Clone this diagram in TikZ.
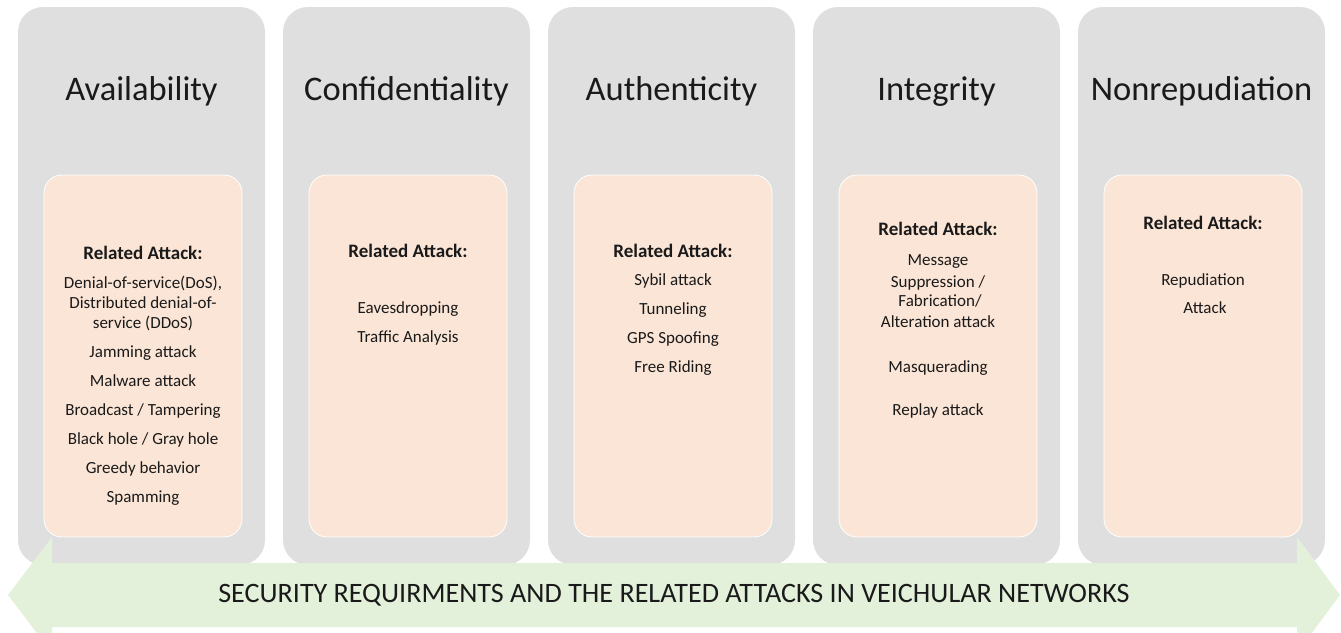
\documentclass[tikz,border=0pt]{standalone}
\usepackage{fontspec}
\setmainfont{Carlito}
\definecolor{colgray}{HTML}{DFDFDF}
\definecolor{attackfill}{HTML}{FBE5D6}
\definecolor{bandgreen}{HTML}{E3F1DA}
\definecolor{ink}{HTML}{1A1A1A}
\begin{document}
\begin{tikzpicture}[x=1pt,y=-1pt,
  pillar/.style={fill=colgray, rounded corners=25pt},
  attackbox/.style={fill=attackfill, draw=white, line width=0.8pt, rounded corners=18pt},
  heading/.style={font=\fontsize{34.5}{38}\selectfont, text=ink, anchor=base, inner sep=0pt},
  attackline/.style={font=\fontsize{17}{20}\selectfont, text=ink, anchor=base, inner sep=0pt},
  attackhead/.style={font=\fontsize{19}{20}\selectfont\bfseries, text=ink, anchor=base, inner sep=0pt},
  band/.style={fill=bandgreen},
  bandtext/.style={font=\fontsize{28.1}{30}\selectfont, text=ink, anchor=base, inner sep=0pt}
]
\useasboundingbox (0,0) rectangle (1341,632);
\clip (0,0) rectangle (1341,632);

% grey pillars and the peach attack panels inside them
\foreach \l in {18,283,548,813,1078} {
  \path[pillar] (\l,7) rectangle ++(247,558);
  \path[attackbox] (\l+26,175) rectangle ++(198,362);
}

% double-headed band along the bottom
\path[band] (8,595) -- (52,537) -- (52,563) -- (1297,563) -- (1297,537)
  -- (1340,595) -- (1297,653) -- (1297,627) -- (52,627) -- (52,653) -- cycle;
\node[bandtext] (bandlabel) at (674,602)
  {SECURITY REQUIRMENTS AND THE RELATED ATTACKS IN VEICHULAR NETWORKS};

% column headings
\node[heading] (hA) at (141.5,100) {Availability};
\node[heading] (hC) at (406.5,100) {Confidentiality};
\node[heading] (hU) at (671.5,100) {Authenticity};
\node[heading] (hI) at (936.5,100) {Integrity};
\node[heading] (hN) at (1201.5,100) {Nonrepudiation};

% Availability
\node[attackhead] (a0) at (143,259) {Related Attack:};
\node[attackline] (a1) at (143,288) {Denial-of-service(DoS),};
\node[attackline] (a2) at (143,308) {Distributed denial-of-};
\node[attackline] (a3) at (143,328) {service (DDoS)};
\node[attackline] (a4) at (143,357) {Jamming attack};
\node[attackline] (a5) at (143,386) {Malware attack};
\node[attackline] (a6) at (143,415) {Broadcast / Tampering};
\node[attackline] (a7) at (143,444) {Black hole / Gray hole};
\node[attackline] (a8) at (143,473) {Greedy behavior};
\node[attackline] (a9) at (143,502) {Spamming};

% Confidentiality
\node[attackhead] (c0) at (408,257) {Related Attack:};
\node[attackline] (c1) at (408,313) {Eavesdropping};
\node[attackline] (c2) at (408,342) {Traffic Analysis};

% Authenticity
\node[attackhead] (u0) at (673,257) {Related Attack:};
\node[attackline] (u1) at (673,285) {Sybil attack};
\node[attackline] (u2) at (673,314) {Tunneling};
\node[attackline] (u3) at (673,343) {GPS Spoofing};
\node[attackline] (u4) at (673,372) {Free Riding};

% Integrity
\node[attackhead] (i0) at (938,235) {Related Attack:};
\node[attackline] (i1) at (938,265) {Message};
\node[attackline] (i2) at (938,287) {Suppression /};
\node[attackline] (i3) at (940,306) {Fabrication/};
\node[attackline] (i4) at (938,327) {Alteration attack};
\node[attackline] (i5) at (938,372) {Masquerading};
\node[attackline] (i6) at (938,415) {Replay attack};

% Nonrepudiation
\node[attackhead] (n0) at (1203,229) {Related Attack:};
\node[attackline] (n1) at (1203,285) {Repudiation};
\node[attackline] (n2) at (1205,313) {Attack};
\end{tikzpicture}
\end{document}
